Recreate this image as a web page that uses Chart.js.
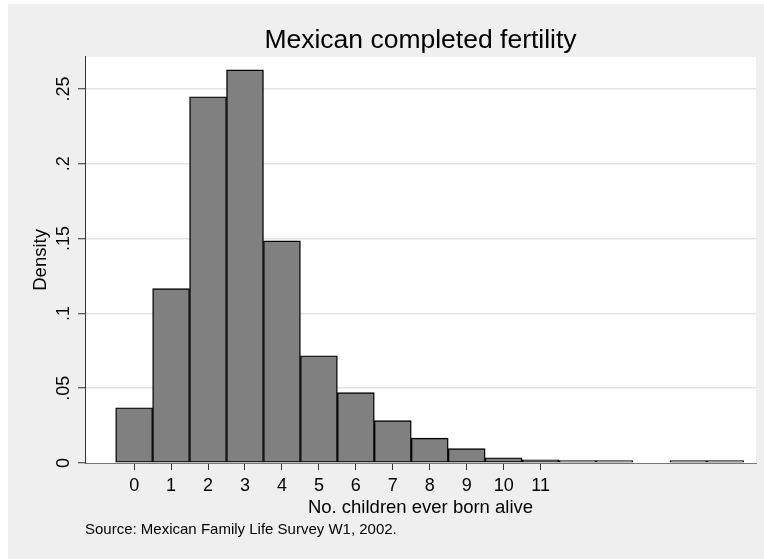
<!DOCTYPE html>
<html>
<head>
<meta charset="utf-8">
<title>Mexican completed fertility</title>
<script src="https://cdn.jsdelivr.net/npm/chart.js@4.4.1/dist/chart.umd.min.js"></script>
<style>
  html, body { margin: 0; padding: 0; background: #ffffff; }
  #frame { position: absolute; left: 8px; top: 4px; width: 756px; height: 555px; background: #efefef; }
</style>
</head>
<body>
<div id="frame">
  <canvas id="fertChart" width="756" height="555"></canvas>
</div>
<script>
// number of children ever born alive (bins) and the density of each bin
const childCounts = [0, 1, 2, 3, 4, 5, 6, 7, 8, 9, 10, 11, 12, 13, 15, 16];
const density = [0.0369, 0.1165, 0.2448, 0.2628, 0.1485, 0.0717, 0.0470, 0.0283,
                 0.0166, 0.0096, 0.0035, 0.0022, 0.0012, 0.0009, 0.0005, 0.0005];

const xTickValues = [0, 1, 2, 3, 4, 5, 6, 7, 8, 9, 10, 11];
const yTickValues = [0, 0.05, 0.1, 0.15, 0.2, 0.25];
const yTickLabels = ['0', '.05', '.1', '.15', '.2', '.25'];

const titleText = 'Mexican completed fertility';
const xTitle = 'No. children ever born alive';
const yTitle = 'Density';
const sourceNote = 'Source: Mexican Family Life Survey W1, 2002.';

const FONT = '"Liberation Sans", Arial, Helvetica, sans-serif';

// white plot region on the grey frame
const plotBackground = {
  id: 'plotBackground',
  beforeDraw(chart) {
    const {ctx, chartArea: a} = chart;
    ctx.save();
    ctx.fillStyle = '#ffffff';
    ctx.fillRect(a.left, a.top, a.right - a.left, a.bottom - a.top);
    ctx.restore();
  }
};

const ctx = document.getElementById('fertChart').getContext('2d');
const fertChart = new Chart(ctx, {
  type: 'bar',
  data: {
    datasets: [{
      data: childCounts.map((c, i) => ({x: c, y: density[i]})),
      backgroundColor: '#808080',
      borderColor: '#000000',
      borderWidth: 1.4,
      borderSkipped: false,
      minBarLength: 2.5,   // keeps the near-empty bins visible as outlines
      barPercentage: 1,
      categoryPercentage: 1
    }]
  },
  options: {
    responsive: false,
    animation: false,
    events: [],
    layout: { padding: {left: 0, right: 8, top: 0, bottom: 0} },
    plugins: {
      legend: { display: false },
      tooltip: { enabled: false },
      title: {
        display: true,
        text: titleText,
        fullSize: false,
        color: '#000000',
        font: {family: FONT, size: 26.5, weight: 'normal'},
        padding: {top: 21, bottom: 0}
      },
      subtitle: {
        display: true,
        text: sourceNote,
        position: 'bottom',
        align: 'start',
        fullSize: false,
        color: '#000000',
        font: {family: FONT, size: 15, weight: 'normal'},
        padding: {top: 2, bottom: 20}
      }
    },
    scales: {
      x: {
        type: 'linear',
        offset: false,
        min: -1.33,
        max: 16.83,
        afterBuildTicks: (scale) => { scale.ticks = xTickValues.map(v => ({value: v})); },
        afterFit: (scale) => { scale.height = 56; },
        ticks: {
          color: '#000000',
          font: {family: FONT, size: 18},
          padding: 5,
          maxRotation: 0,
          callback: (v) => String(v)
        },
        grid: {
          offset: false,
          drawOnChartArea: false,
          tickLength: 7,
          tickColor: '#333333',
          tickWidth: 1
        },
        border: { display: true, color: '#777777', width: 1 },
        title: {
          display: true,
          text: xTitle,
          color: '#000000',
          font: {family: FONT, size: 18.5},
          padding: {top: 0, bottom: 0}
        }
      },
      y: {
        min: 0,
        max: 0.2715,
        afterBuildTicks: (scale) => { scale.ticks = yTickValues.map(v => ({value: v})); },
        afterFit: (scale) => { scale.width = 77; },
        ticks: {
          color: '#000000',
          font: {family: FONT, size: 18},
          padding: 1,
          minRotation: 90,
          maxRotation: 90,
          crossAlign: 'center',
          callback: (v) => yTickLabels[yTickValues.indexOf(v)]
        },
        grid: {
          color: (c) => (c.tick && c.tick.value === 0) ? 'rgba(0,0,0,0)' : '#e4e4e4',
          lineWidth: 1.5,
          tickLength: 7,
          tickColor: '#333333',
          tickWidth: 1
        },
        border: { display: true, color: '#333333', width: 1 },
        title: {
          display: true,
          text: yTitle,
          color: '#000000',
          font: {family: FONT, size: 18.5},
          padding: {top: 22, bottom: 0}
        }
      }
    }
  },
  plugins: [plotBackground]
});
</script>
</body>
</html>
